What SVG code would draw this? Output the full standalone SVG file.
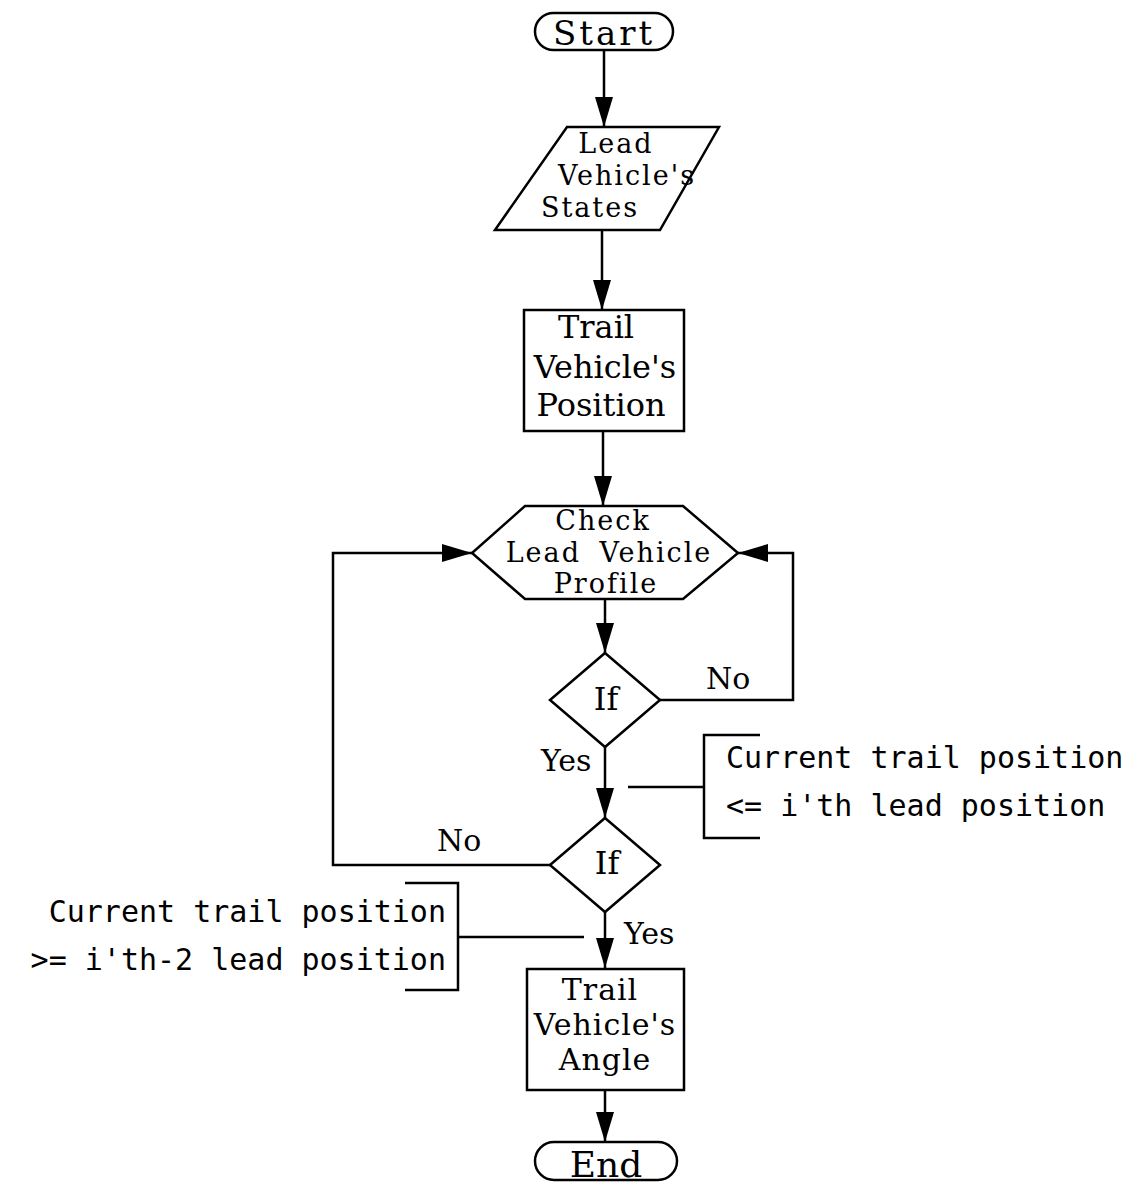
<svg xmlns="http://www.w3.org/2000/svg" width="1133" height="1186" viewBox="0 0 1133 1186">
<style>
.shape{fill:#fff;stroke:#000;stroke-width:2.5}
.line{fill:none;stroke:#000;stroke-width:2.5}
.t{font-family:"DejaVu Serif","Liberation Serif",serif;font-size:32px;fill:#000;text-anchor:middle}
.tight{font-size:27px;letter-spacing:2px}
.mid{font-size:30px;letter-spacing:1px}
.lbl{font-family:"DejaVu Serif","Liberation Serif",serif;font-size:30px;fill:#000}
.note{font-family:"DejaVu Sans Mono","Liberation Mono",monospace;font-size:30px;fill:#000}
</style>
<defs>
<marker id="arr" viewBox="0 0 30 18" refX="30" refY="9" markerWidth="30" markerHeight="18" markerUnits="userSpaceOnUse" orient="auto">
<path d="M0,0 L30,9 L0,18 z" fill="#000"/>
</marker>
</defs>
<rect width="1133" height="1186" fill="#fff"/>
<g id="connectors">
<path class="line" d="M604,50 V127" marker-end="url(#arr)"/>
<path class="line" d="M602,230 V310" marker-end="url(#arr)"/>
<path class="line" d="M603,431 V506" marker-end="url(#arr)"/>
<path class="line" d="M605,599 V653" marker-end="url(#arr)"/>
<path class="line" d="M660,700 H793 V553 H738" marker-end="url(#arr)"/>
<path class="line" d="M605,747 V818" marker-end="url(#arr)"/>
<path class="line" d="M550,865 H333 V553 H472" marker-end="url(#arr)"/>
<path class="line" d="M605,912 V968" marker-end="url(#arr)"/>
<path class="line" d="M605,1090 V1142" marker-end="url(#arr)"/>
<text class="lbl" x="706" y="689">No</text>
<text class="lbl" x="541" y="771">Yes</text>
<text class="lbl" x="437" y="851">No</text>
<text class="lbl" x="624" y="944">Yes</text>
</g>
<g id="start">
<rect class="shape" x="535" y="13" width="138" height="37" rx="18.5"/>
<text class="t" x="604" y="45" style="font-size:34px;letter-spacing:3px">Start</text>
</g>
<g id="lead-states">
<polygon class="shape" points="567,127 719,127 660,230 495,230"/>
<text class="t tight" x="616" y="153">Lead</text>
<text class="t tight" x="627" y="185">Vehicle's</text>
<text class="t tight" x="590" y="217">States</text>
</g>
<g id="trail-position">
<rect class="shape" x="524" y="310" width="160" height="121"/>
<text class="t" x="596" y="338">Trail</text>
<text class="t" x="605" y="378">Vehicle's</text>
<text class="t" x="601" y="416">Position</text>
</g>
<g id="check-profile">
<polygon class="shape" points="525,506 683,506 738,553 683,599 525,599 472,553"/>
<text class="t tight" x="603" y="530">Check</text>
<text class="t tight" x="609" y="562" style="word-spacing:8px">Lead Vehicle</text>
<text class="t tight" x="606" y="593">Profile</text>
</g>
<g id="if1">
<polygon class="shape" points="605,653 660,700 605,747 550,700"/>
<text class="t" x="606" y="710">If</text>
</g>
<g id="if2">
<polygon class="shape" points="605,818 660,865 605,912 550,865"/>
<text class="t" x="607" y="874">If</text>
</g>
<g id="note-right">
<path class="line" d="M760,735 H704 V838 H760 M628,787 H704"/>
<text class="note" x="726" y="768">Current trail position</text>
<text class="note" x="726" y="816">&lt;= i'th lead position</text>
</g>
<g id="note-left">
<path class="line" d="M405,883 H458 V990 H405 M458,937 H584"/>
<text class="note" x="446" y="922" text-anchor="end">Current trail position</text>
<text class="note" x="446" y="970" text-anchor="end">&gt;= i'th-2 lead position</text>
</g>
<g id="trail-angle">
<rect class="shape" x="527" y="969" width="157" height="121"/>
<text class="t mid" x="600" y="1000">Trail</text>
<text class="t mid" x="605" y="1035">Vehicle's</text>
<text class="t mid" x="605" y="1070">Angle</text>
</g>
<g id="end">
<rect class="shape" x="535" y="1142" width="142" height="38" rx="19"/>
<text class="t" x="606" y="1177" style="font-size:36px">End</text>
</g>
</svg>
